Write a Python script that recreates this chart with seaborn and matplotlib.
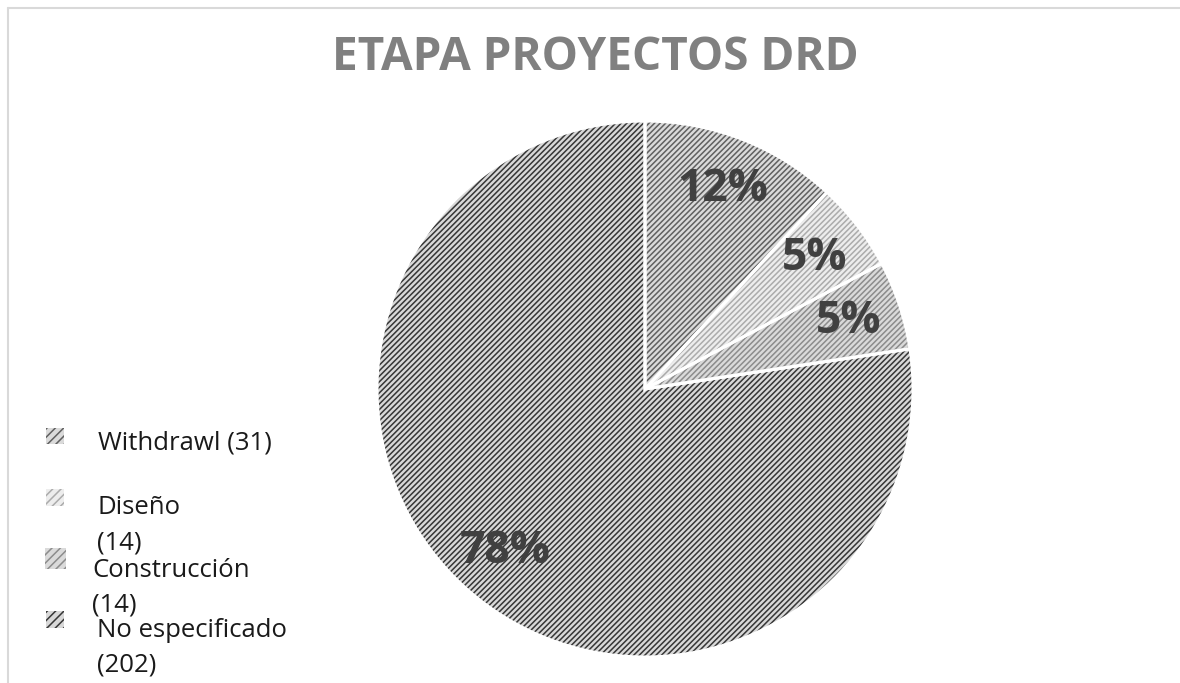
import matplotlib
matplotlib.use("Agg")
import matplotlib.pyplot as plt
import seaborn as sns
from matplotlib.patches import Rectangle
from matplotlib.lines import Line2D

# ---- data ----
categories = ["Withdrawl", "Diseño", "Construcción", "No especificado"]
counts = [31, 14, 14, 202]
pct_labels = ["12%", "5%", "5%", "78%"]
title = "ETAPA PROYECTOS DRD"

sns.set_theme(style="white")
plt.rcParams['font.family'] = ['Open Sans', 'DejaVu Sans']
plt.rcParams['hatch.linewidth'] = 1.1

face_colors = sns.color_palette(["#dadada", "#ededed", "#dadada", "#d8d8d8"])
hatch_colors = sns.color_palette(["#606060", "#ababab", "#8c8c8c", "#363636"])
HATCH = '//////'

W, H = 1180, 683
fig = plt.figure(figsize=(W / 100, H / 100), dpi=100)
fig.patch.set_facecolor('white')

cx, cy, r = 645, 389, 268
ax = fig.add_axes([(cx - r) / W, (H - cy - r) / H, 2 * r / W, 2 * r / H])

pct_iter = iter(pct_labels)
wedges, texts, autotexts = ax.pie(
    counts, startangle=90, counterclock=False, colors=face_colors,
    hatch=HATCH, autopct=lambda p: next(pct_iter), pctdistance=0.8,
    wedgeprops=dict(linewidth=0),
    textprops=dict(fontsize=32, fontweight='bold', color='#404040'))
for w, hc in zip(wedges, hatch_colors):
    w.set_edgecolor(hc)
    w.set_linewidth(0)

# white separators
ax.pie(counts, startangle=90, counterclock=False,
       wedgeprops=dict(fill=False, edgecolor='white', linewidth=2.2))
ax.set_xlim(-1, 1)
ax.set_ylim(-1, 1)
ax.set_aspect('equal')

# title
fig.text(595 / W, 1 - 58 / H, title, ha='center', va='center',
         fontsize=33, fontweight='bold', color='#808080')

# legend (manual)
marker_boxes = [(46, 428, 18, 16), (46, 489, 18, 17), (45, 548, 21, 21), (46, 611, 18, 17)]
text_lines = [
    [("Withdrawl (31)", 98, 450)],
    [("Diseño", 97, 514), ("(14)", 97, 549)],
    [("Construcción", 92, 577), ("(14)", 92, 612)],
    [("No especificado", 97, 637), ("(202)", 97, 672)],
]
for i, cat in enumerate(categories):
    x, y, bw, bh = marker_boxes[i]
    rect = Rectangle((x / W, 1 - (y + bh) / H), bw / W, bh / H, transform=fig.transFigure,
                     facecolor=face_colors[i], edgecolor=hatch_colors[i], linewidth=0,
                     hatch='////')
    fig.add_artist(rect)
    label = f"{cat} ({counts[i]})" if i == 0 else f"{cat}\n({counts[i]})"
    for line, (txt, tx, ty) in zip(label.split("\n"), text_lines[i]):
        fig.text(tx / W, 1 - ty / H, line, ha='left', va='baseline',
                 fontsize=18.5, color='#1a1a1a')

# border lines
fig.add_artist(Line2D([8 / W, 8 / W], [0, 1 - 8 / H], transform=fig.transFigure,
                      color='#d9d9d9', linewidth=1.5))
fig.add_artist(Line2D([8 / W, 1], [1 - 8 / H, 1 - 8 / H], transform=fig.transFigure,
                      color='#d9d9d9', linewidth=1.5))

fig.savefig("out.png", dpi=100, facecolor='white')
